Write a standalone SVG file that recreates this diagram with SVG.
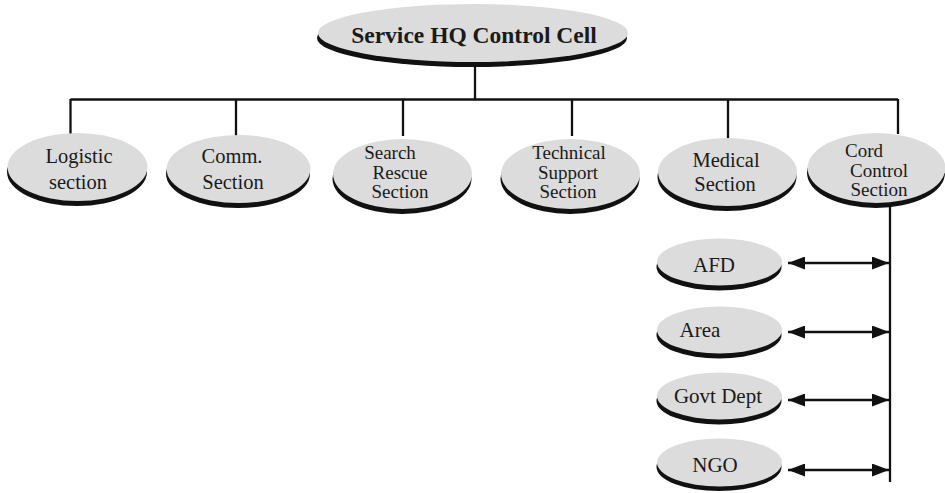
<svg xmlns="http://www.w3.org/2000/svg" width="945" height="493" viewBox="0 0 945 493">
<style>
.fill{fill:#dcdcdc}
.shadow{fill:#111}
.ln{stroke:#111;stroke-width:2.3;fill:none}
.t{font-family:"Liberation Serif","Times New Roman",serif;fill:#1a1a1a;text-anchor:middle}
.l2{font-size:20.5px}
.l2s{font-size:19px}
.l3{font-size:21px}
.hq{font-size:23.5px;font-weight:bold}
</style>
<defs>
<marker id="ah" markerUnits="userSpaceOnUse" markerWidth="17" markerHeight="13" refX="17" refY="6.5" orient="auto-start-reverse">
<path d="M0,0 L17,6.5 L0,13 z" fill="#111"/>
</marker>
</defs>
<rect width="945" height="493" fill="#fff"/>
<g id="connectors">
<path class="ln" d="M475,62 V99.5 M70.5,99.5 H898 M70.5,99 V134 M236,99 V136 M403,99 V136 M572,99 V136 M728,99 V138 M898,99 V134"/>
<path class="ln" d="M890,205 V482"/>
<line class="ln" x1="788" y1="263" x2="889" y2="263" marker-start="url(#ah)" marker-end="url(#ah)"/>
<line class="ln" x1="788" y1="332" x2="889" y2="332" marker-start="url(#ah)" marker-end="url(#ah)"/>
<line class="ln" x1="788" y1="400" x2="889" y2="400" marker-start="url(#ah)" marker-end="url(#ah)"/>
<line class="ln" x1="788" y1="470" x2="889" y2="470" marker-start="url(#ah)" marker-end="url(#ah)"/>
</g>
<g id="hq">
<ellipse class="shadow" cx="472" cy="38" rx="155" ry="29"/>
<ellipse class="fill" cx="473" cy="33" rx="155" ry="29"/>
<text class="t hq" x="474" y="43">Service HQ Control Cell</text>
</g>
<g id="logistic">
<ellipse class="shadow" cx="77" cy="172" rx="70" ry="34"/>
<ellipse class="fill" cx="77.5" cy="167" rx="70" ry="34"/>
<text class="t l2" x="79" y="163">Logistic</text>
<text class="t l2" x="78" y="189">section</text>
</g>
<g id="comm">
<ellipse class="shadow" cx="238" cy="174" rx="72" ry="34"/>
<ellipse class="fill" cx="238.5" cy="169" rx="72" ry="34"/>
<text class="t l2" x="232" y="163">Comm.</text>
<text class="t l2" x="233" y="189">Section</text>
</g>
<g id="search">
<ellipse class="shadow" cx="402" cy="179" rx="69.5" ry="35"/>
<ellipse class="fill" cx="402.5" cy="174" rx="69.5" ry="35"/>
<text class="t l2s" x="390" y="159">Search</text>
<text class="t l2s" x="400" y="178.5">Rescue</text>
<text class="t l2s" x="400" y="198">Section</text>
</g>
<g id="technical">
<ellipse class="shadow" cx="570" cy="179" rx="69.5" ry="35"/>
<ellipse class="fill" cx="570.5" cy="174" rx="69.5" ry="35"/>
<text class="t l2s" x="569" y="159">Technical</text>
<text class="t l2s" x="568" y="178.5">Support</text>
<text class="t l2s" x="568" y="198">Section</text>
</g>
<g id="medical">
<ellipse class="shadow" cx="727" cy="177" rx="69.5" ry="34"/>
<ellipse class="fill" cx="727.5" cy="172" rx="69.5" ry="34"/>
<text class="t l2" x="726" y="167">Medical</text>
<text class="t l2" x="725" y="191">Section</text>
</g>
<g id="cord">
<ellipse class="shadow" cx="876" cy="173" rx="69" ry="35"/>
<ellipse class="fill" cx="876.5" cy="168" rx="69" ry="35"/>
<text class="t l2s" x="864" y="157">Cord</text>
<text class="t l2s" x="879" y="176.5">Control</text>
<text class="t l2s" x="879" y="196">Section</text>
</g>
<g id="afd">
<ellipse class="shadow" cx="719" cy="267" rx="62.5" ry="23.5"/>
<ellipse class="fill" cx="719.5" cy="262" rx="62.5" ry="23.5"/>
<text class="t l3" x="714" y="272">AFD</text>
</g>
<g id="area">
<ellipse class="shadow" cx="719" cy="335" rx="62.5" ry="23.5"/>
<ellipse class="fill" cx="719.5" cy="330" rx="62.5" ry="23.5"/>
<text class="t l3" x="700" y="337">Area</text>
</g>
<g id="govt">
<ellipse class="shadow" cx="719" cy="401" rx="62.5" ry="23.5"/>
<ellipse class="fill" cx="719.5" cy="396" rx="62.5" ry="23.5"/>
<text class="t l3" x="718" y="403">Govt Dept</text>
</g>
<g id="ngo">
<ellipse class="shadow" cx="719" cy="467" rx="62.5" ry="24"/>
<ellipse class="fill" cx="719.5" cy="462.5" rx="62.5" ry="24"/>
<text class="t l3" x="715" y="472">NGO</text>
</g>
</svg>
